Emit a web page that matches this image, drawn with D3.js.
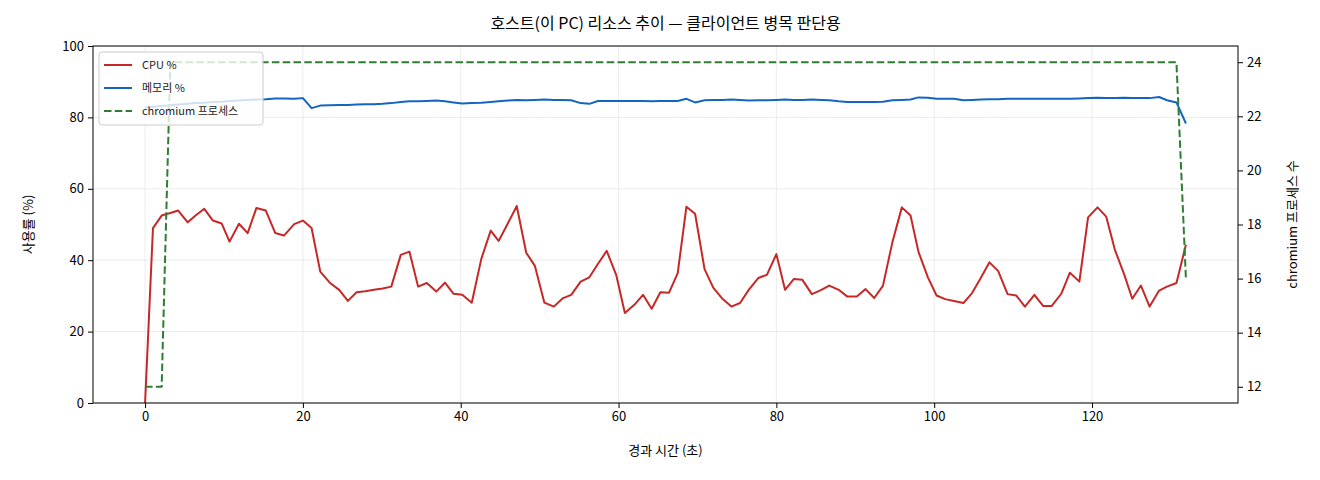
<!DOCTYPE html>
<html><head><meta charset="utf-8">
<script src="https://cdn.jsdelivr.net/npm/d3@7/dist/d3.min.js"></script>
<style>
html,body{margin:0;padding:0;background:#fff;}
svg{display:block;font-family:"Noto Sans CJK KR","Noto Sans",sans-serif;}
</style></head>
<body><svg id="c" width="1320" height="480"></svg>
<script>
const times = [
  0, 1.0, 2.1, 3.2, 4.2, 5.4, 6.4, 7.5, 8.6, 9.7,
  10.7, 11.9, 13.0, 14.1, 15.3, 16.5, 17.6, 18.9, 20.0, 21.1,
  22.2, 23.4, 24.6, 25.7, 26.8, 27.9, 29.0, 30.1, 31.2, 32.4,
  33.5, 34.6, 35.7, 36.9, 38.0, 39.1, 40.2, 41.4, 42.6, 43.8,
  44.8, 46.0, 47.1, 48.3, 49.4, 50.6, 51.8, 52.9, 54.0, 55.2,
  56.3, 57.4, 58.5, 59.7, 60.8, 62.0, 63.1, 64.2, 65.3, 66.4,
  67.5, 68.6, 69.7, 70.9, 72.0, 73.2, 74.3, 75.4, 76.5, 77.7,
  78.8, 80.0, 81.1, 82.2, 83.3, 84.5, 85.7, 86.7, 87.9, 89.0,
  90.2, 91.3, 92.4, 93.5, 94.7, 95.9, 97.0, 98.0, 99.2, 100.3,
  101.4, 102.5, 103.7, 104.8, 105.9, 107.0, 108.1, 109.3, 110.4, 111.5,
  112.7, 113.8, 114.9, 116.1, 117.2, 118.4, 119.5, 120.7, 121.8, 122.9,
  124.1, 125.1, 126.2, 127.3, 128.5, 129.5, 130.7, 131.9
];
const cpu = [
  0, 49.0, 52.5, 53.2, 53.9, 50.6, 52.5, 54.4, 51.1, 50.3,
  45.2, 50.2, 47.6, 54.6, 53.9, 47.6, 46.9, 50.1, 51.1, 49.0,
  36.8, 33.7, 31.7, 28.6, 31.0, 31.3, 31.7, 32.1, 32.6, 41.5,
  42.4, 32.6, 33.6, 31.2, 33.7, 30.6, 30.3, 28.1, 40.3, 48.3,
  45.4, 50.4, 55.2, 42.1, 38.4, 28.1, 27.0, 29.3, 30.3, 34.0,
  35.2, 39.0, 42.6, 35.9, 25.2, 27.5, 30.3, 26.4, 31.0, 30.9,
  36.4, 55.0, 53.0, 37.5, 32.3, 29.1, 27.0, 28.0, 31.7, 35.0,
  35.9, 41.7, 31.7, 34.7, 34.5, 30.5, 31.7, 32.9, 31.7, 29.8,
  29.8, 31.9, 29.4, 32.8, 45.0, 54.8, 52.5, 42.4, 35.2, 30.1,
  29.1, 28.6, 28.0, 30.8, 35.0, 39.4, 37.0, 30.5, 30.1, 27.0,
  30.3, 27.2, 27.2, 30.6, 36.5, 34.0, 52.0, 54.8, 52.2, 42.9,
  35.9, 29.2, 32.9, 27.0, 31.5, 32.6, 33.6, 44.3
];
const mem = [
  82.8, 83.0, 83.2, 83.4, 83.6, 83.8, 84.0, 84.1, 84.3, 84.4,
  84.6, 84.7, 84.9, 85.0, 85.1, 85.3, 85.3, 85.2, 85.4, 82.6,
  83.3, 83.4, 83.5, 83.5, 83.6, 83.7, 83.7, 83.8, 84.0, 84.3,
  84.5, 84.5, 84.6, 84.7, 84.5, 84.2, 83.9, 84.0, 84.1, 84.3,
  84.5, 84.7, 84.9, 84.8, 84.9, 85.0, 84.9, 84.9, 84.8, 84.0,
  83.8, 84.6, 84.6, 84.6, 84.6, 84.6, 84.6, 84.5, 84.6, 84.6,
  84.6, 85.2, 84.2, 84.8, 84.9, 84.9, 85.0, 84.9, 84.7, 84.8,
  84.8, 84.9, 85.0, 84.9, 84.9, 85.0, 84.9, 84.8, 84.5, 84.3,
  84.3, 84.3, 84.3, 84.4, 84.8, 84.9, 85.0, 85.6, 85.5, 85.2,
  85.2, 85.2, 84.8, 84.9, 85.0, 85.1, 85.1, 85.2, 85.2, 85.2,
  85.2, 85.2, 85.2, 85.2, 85.2, 85.3, 85.4, 85.5, 85.4, 85.4,
  85.5, 85.4, 85.4, 85.4, 85.7, 84.8, 84.2, 78.3
];
const chromium = [
  12, 12, 12, 24, 24, 24, 24, 24, 24, 24,
  24, 24, 24, 24, 24, 24, 24, 24, 24, 24,
  24, 24, 24, 24, 24, 24, 24, 24, 24, 24,
  24, 24, 24, 24, 24, 24, 24, 24, 24, 24,
  24, 24, 24, 24, 24, 24, 24, 24, 24, 24,
  24, 24, 24, 24, 24, 24, 24, 24, 24, 24,
  24, 24, 24, 24, 24, 24, 24, 24, 24, 24,
  24, 24, 24, 24, 24, 24, 24, 24, 24, 24,
  24, 24, 24, 24, 24, 24, 24, 24, 24, 24,
  24, 24, 24, 24, 24, 24, 24, 24, 24, 24,
  24, 24, 24, 24, 24, 24, 24, 24, 24, 24,
  24, 24, 24, 24, 24, 24, 24, 16
];
const xTicks = [0, 20, 40, 60, 80, 100, 120];
const yLeftTicks = [0, 20, 40, 60, 80, 100];
const yRightTicks = [12, 14, 16, 18, 20, 22, 24];
const seriesNames = ["CPU %", "메모리 %", "chromium 프로세스"];
const titleText = "호스트(이 PC) 리소스 추이 — 클라이언트 병목 판단용";
const xLabel = "경과 시간 (초)";
const yLeftLabel = "사용률 (%)";
const yRightLabel = "chromium 프로세스 수";

const L = 93, R = 1238, T = 46, B = 403;
const colors = {cpu: "#c62828", mem: "#1565c0", chr: "#2e7d32"};
const svg = d3.select("#c");

const x = d3.scaleLinear().domain([-6.6, 138.5]).range([L, R]);
const yL = d3.scaleLinear().domain([0, 100]).range([B, T]);
const yR = d3.scaleLinear().domain([11.4, 24.6]).range([B, T]);

// grid
const grid = svg.append("g").attr("stroke", "#b0b0b0").attr("stroke-opacity", 0.3).attr("stroke-width", 0.8);
xTicks.forEach(t => grid.append("line").attr("x1", x(t)).attr("x2", x(t)).attr("y1", T).attr("y2", B));
yLeftTicks.forEach(t => grid.append("line").attr("x1", L).attr("x2", R).attr("y1", yL(t)).attr("y2", yL(t)));

const data = times.map((t, i) => ({t, cpu: cpu[i], mem: mem[i], chr: chromium[i]}));

const clip = svg.append("defs").append("clipPath").attr("id", "pc");
clip.append("rect").attr("x", L).attr("y", T).attr("width", R - L).attr("height", B - T);

const plot = svg.append("g").attr("clip-path", "url(#pc)");
plot.append("path").datum(data)
  .attr("d", d3.line().x(d => x(d.t)).y(d => yL(d.cpu)))
  .attr("fill", "none").attr("stroke", colors.cpu).attr("stroke-width", 2).attr("stroke-linejoin", "round");
plot.append("path").datum(data)
  .attr("d", d3.line().x(d => x(d.t)).y(d => yL(d.mem)))
  .attr("fill", "none").attr("stroke", colors.mem).attr("stroke-width", 2).attr("stroke-linejoin", "round");

// legend (belongs to left axes, under the twin-axis line)
const lg = svg.append("g");
lg.append("rect").attr("x", 99).attr("y", 52).attr("width", 164).attr("height", 73)
  .attr("rx", 3).attr("fill", "#fff").attr("fill-opacity", 0.8).attr("stroke", "#cccccc").attr("stroke-width", 1);
const legItems = [
  {name: seriesNames[0], color: colors.cpu, dash: null},
  {name: seriesNames[1], color: colors.mem, dash: null},
  {name: seriesNames[2], color: colors.chr, dash: "7.5,3.3"}
];
legItems.forEach((it, i) => {
  const yy = 65 + i * 23;
  lg.append("line").attr("x1", 104).attr("x2", 132).attr("y1", yy).attr("y2", yy)
    .attr("stroke", it.color).attr("stroke-width", 2).attr("stroke-dasharray", it.dash);
  lg.append("text").attr("x", 142).attr("y", yy).attr("dy", "0.35em")
    .attr("font-size", 11).attr("fill", "#222").text(it.name);
});

// chromium on twin axis (drawn over legend)
plot.append("path").datum(data)
  .attr("d", d3.line().x(d => x(d.t)).y(d => yR(d.chr)))
  .attr("fill", "none").attr("stroke", colors.chr).attr("stroke-width", 2).attr("stroke-dasharray", "7.5,3.3");

// axes
const fontSize = 13;
const xa = svg.append("g").attr("transform", `translate(0,${B})`)
  .call(d3.axisBottom(x).tickValues(xTicks).tickSize(5).tickPadding(4).tickFormat(d3.format("d")));
const yla = svg.append("g").attr("transform", `translate(${L},0)`)
  .call(d3.axisLeft(yL).tickValues(yLeftTicks).tickSize(5).tickPadding(4).tickFormat(d3.format("d")));
const yra = svg.append("g").attr("transform", `translate(${R},0)`)
  .call(d3.axisRight(yR).tickValues(yRightTicks).tickSize(5).tickPadding(4).tickFormat(d3.format("d")));
[xa, yla, yra].forEach(g => {
  g.select(".domain").remove();
  g.selectAll(".tick line").attr("stroke", "#000").attr("stroke-width", 1);
  g.selectAll(".tick text").attr("font-size", fontSize).attr("fill", "#000")
    .attr("font-family", "'Noto Sans CJK KR', sans-serif");
});

// frame
svg.append("rect").attr("x", L).attr("y", T).attr("width", R - L).attr("height", B - T)
  .attr("fill", "none").attr("stroke", "#000").attr("stroke-width", 1);

// labels
svg.append("text").attr("x", (L + R) / 2).attr("y", 29).attr("text-anchor", "middle")
  .attr("font-size", 16).attr("fill", "#000").text(titleText);
svg.append("text").attr("x", (L + R) / 2).attr("y", 455).attr("text-anchor", "middle")
  .attr("font-size", 13).attr("fill", "#000").text(xLabel);
svg.append("text").attr("transform", `translate(33,${(T + B) / 2}) rotate(-90)`).attr("text-anchor", "middle")
  .attr("font-size", 13).attr("fill", "#000").text(yLeftLabel);
svg.append("text").attr("transform", `translate(1297,${(T + B) / 2}) rotate(-90)`).attr("text-anchor", "middle")
  .attr("font-size", 13).attr("fill", "#000").text(yRightLabel);
</script></body></html>
